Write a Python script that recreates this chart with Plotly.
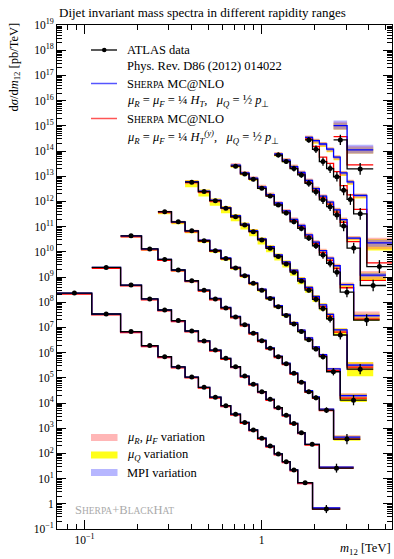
import plotly.graph_objects as go
import math

# ---------------- data ----------------
# bin edges [TeV] and dsigma/dm12 [pb/TeV] (scaled) for nine rapidity slices
EDGES_1 = [0.07, 0.11, 0.16, 0.21, 0.26, 0.31, 0.37, 0.44, 0.51, 0.59, 0.67, 0.76, 0.85, 0.95, 1.06, 1.18, 1.31, 1.45, 1.60, 1.94, 2.78]
DATA_1 = [2.3e8, 3.4e7, 6.8e6, 1.9e6, 6.9e5, 2.7e5, 1.07e5, 4.2e4, 1.7e4, 7.8e3, 3.6e3, 1.7e3, 8.5e2, 4.0e2, 1.95e2, 9.5e1, 4.7e1, 2.2e1, 6.9, 0.62]

EDGES_2 = [0.11, 0.16, 0.21, 0.26, 0.31, 0.37, 0.44, 0.51, 0.59, 0.67, 0.76, 0.85, 0.95, 1.06, 1.18, 1.31, 1.45, 1.60, 1.76, 2.12, 3.31]
DATA_2 = [2.4e9, 4.8e8, 1.35e8, 4.9e7, 1.86e7, 7.2e6, 2.9e6, 1.26e6, 5.9e5, 2.75e5, 1.17e5, 5.6e4, 2.8e4, 1.4e4, 6.5e3, 3.3e3, 1.55e3, 6.6e2, 2.3e2, 2.6e1]

EDGES_3 = [0.16, 0.21, 0.26, 0.31, 0.37, 0.44, 0.51, 0.59, 0.67, 0.76, 0.85, 0.95, 1.06, 1.18, 1.31, 1.45, 1.60, 1.76, 1.94, 2.12, 2.55, 3.61]
DATA_3 = [4.3e10, 1.3e10, 5.0e9, 1.9e9, 7.1e8, 3.0e8, 1.35e8, 5.9e7, 2.6e7, 1.26e7, 5.9e6, 2.95e6, 1.48e6, 6.9e5, 3.6e5, 1.5e5, 6.6e4, 2.8e4, 1.6e4, 5.2e3, 3.7e2]

EDGES_4 = [0.26, 0.31, 0.37, 0.44, 0.51, 0.59, 0.67, 0.76, 0.85, 0.95, 1.06, 1.18, 1.31, 1.45, 1.60, 1.76, 1.94, 2.12, 2.33, 2.78, 3.93]
DATA_4 = [3.9e11, 1.55e11, 6.8e10, 2.75e10, 1.1e10, 5.4e9, 2.3e9, 1.12e9, 5.6e8, 3.0e8, 1.4e8, 6.6e7, 3.0e7, 1.35e7, 6.8e6, 3.2e6, 1.4e6, 6.9e5, 1.74e5, 1.3e4]

EDGES_5 = [0.37, 0.44, 0.51, 0.59, 0.67, 0.76, 0.85, 0.95, 1.06, 1.18, 1.31, 1.45, 1.60, 1.76, 1.94, 2.12, 2.33, 2.55, 3.04, 4.27]
DATA_5 = [5.8e12, 2.45e12, 1.07e12, 5.4e11, 2.45e11, 1.15e11, 6.3e10, 2.95e10, 1.38e10, 6.5e9, 3.3e9, 1.55e9, 6.9e8, 3.0e8, 1.3e8, 5.6e7, 2.2e7, 5.0e6, 2.2e5]

EDGES_6 = [0.67, 0.76, 0.85, 0.95, 1.06, 1.18, 1.31, 1.45, 1.60, 1.76, 1.94, 2.12, 2.33, 2.55, 2.78, 3.31, 4.64]
DATA_6 = [2.5e13, 1.23e13, 7.6e12, 3.3e12, 1.62e12, 7.2e11, 3.5e11, 1.55e11, 8.5e10, 3.5e10, 1.74e10, 7.4e9, 3.5e9, 1.55e9, 2.5e8, 1.95e7]

EDGES_7 = [1.18, 1.31, 1.45, 1.60, 1.76, 1.94, 2.12, 2.33, 2.55, 2.78, 3.04, 3.61, 5.04]
DATA_7 = [6.9e13, 3.8e13, 2.0e13, 1.12e13, 5.2e12, 2.4e12, 1.15e12, 6.2e11, 2.9e11, 1.05e11, 1.4e10, 4.6e8]

EDGES_8 = [1.76, 1.94, 2.12, 2.33, 2.55, 2.78, 3.04, 3.31, 3.93, 5.45]
DATA_8 = [2.75e14, 1.17e14, 3.8e13, 2.0e13, 9.5e12, 2.8e12, 1.2e12, 3.2e11, 2.6e9]

EDGES_9 = [2.55, 3.04, 4.27]
DATA_9 = [2.75e14, 1.95e13]

# relative data uncertainty per bin
ERR_1 = [0.08, 0.08, 0.08, 0.08, 0.08, 0.08, 0.08, 0.08, 0.08, 0.08, 0.08, 0.08, 0.08, 0.08, 0.1, 0.1, 0.12, 0.12, 0.15, 0.45]
ERR_2 = [0.08, 0.08, 0.08, 0.08, 0.08, 0.08, 0.08, 0.08, 0.08, 0.08, 0.08, 0.08, 0.1, 0.1, 0.1, 0.12, 0.12, 0.15, 0.2, 0.5]
ERR_3 = [0.08, 0.08, 0.08, 0.08, 0.08, 0.08, 0.08, 0.08, 0.08, 0.08, 0.08, 0.1, 0.1, 0.1, 0.12, 0.12, 0.15, 0.2, 0.25, 0.3, 0.6]
ERR_4 = [0.1, 0.1, 0.1, 0.1, 0.1, 0.1, 0.1, 0.1, 0.1, 0.1, 0.12, 0.12, 0.15, 0.15, 0.2, 0.2, 0.25, 0.3, 0.4, 0.6]
ERR_5 = [0.15, 0.15, 0.15, 0.15, 0.15, 0.15, 0.15, 0.15, 0.15, 0.15, 0.2, 0.2, 0.2, 0.25, 0.3, 0.3, 0.4, 0.5, 0.6]
ERR_6 = [0.2, 0.2, 0.2, 0.2, 0.2, 0.2, 0.25, 0.25, 0.3, 0.3, 0.35, 0.4, 0.45, 0.5, 0.6, 0.7]
ERR_7 = [0.25, 0.25, 0.3, 0.3, 0.35, 0.4, 0.45, 0.5, 0.55, 0.6, 0.65, 0.7]
ERR_8 = [0.3, 0.4, 0.45, 0.5, 0.55, 0.6, 0.65, 0.7, 0.8]
ERR_9 = [0.6, 0.7]

# Sherpa MC@NLO, mu = HT/4 (blue) and HT^(y)/4 (red): ratio to data read per bin
HT_1 = [1.0, 1.0, 1.0, 1.0, 1.0, 1.0, 1.0, 1.0, 1.0, 1.0, 1.0, 1.0, 1.0, 1.0, 1.0, 1.0, 1.0, 1.0, 1.0, 1.1]
HTY_1 = [0.92, 0.92, 0.92, 0.92, 0.92, 0.92, 0.92, 0.92, 0.92, 0.92, 0.92, 0.92, 0.92, 0.92, 0.92, 0.92, 0.92, 0.92, 0.92, 1.0]
HT_2 = [1.0, 1.0, 1.0, 1.0, 1.0, 1.0, 1.0, 1.0, 1.0, 1.0, 1.0, 1.0, 1.0, 1.0, 1.0, 1.0, 1.0, 1.0, 1.0, 1.1]
HTY_2 = [0.92, 0.92, 0.92, 0.92, 0.92, 0.92, 0.92, 0.92, 0.92, 0.92, 0.92, 0.92, 0.92, 0.92, 0.92, 0.92, 0.92, 0.92, 0.92, 1.0]
HT_3 = [1.0, 1.0, 1.0, 1.0, 1.0, 1.0, 1.05, 1.05, 1.05, 1.05, 1.05, 1.05, 1.05, 1.05, 1.05, 1.05, 1.05, 1.1, 1.1, 1.1, 1.2]
HTY_3 = [0.92, 0.92, 0.92, 0.92, 0.92, 0.92, 0.92, 0.92, 0.92, 0.92, 0.92, 0.92, 0.92, 0.92, 0.92, 0.92, 0.95, 0.95, 0.95, 0.95, 1.0]
HT_4 = [1.0, 1.0, 1.0, 1.05, 1.05, 1.05, 1.05, 1.05, 1.05, 1.1, 1.1, 1.1, 1.1, 1.15, 1.15, 1.2, 1.2, 1.2, 1.3, 1.5]
HTY_4 = [0.92, 0.92, 0.92, 0.95, 0.95, 0.95, 0.95, 0.95, 0.95, 1.0, 1.0, 1.0, 1.0, 1.0, 1.05, 1.05, 1.05, 1.1, 1.1, 1.2]
HT_5 = [1.05, 1.05, 1.05, 1.05, 1.1, 1.1, 1.1, 1.1, 1.15, 1.15, 1.2, 1.2, 1.25, 1.3, 1.3, 1.4, 1.5, 1.6, 1.45]
HTY_5 = [0.95, 0.95, 0.95, 1.0, 1.0, 1.0, 1.0, 1.05, 1.05, 1.05, 1.1, 1.1, 1.1, 1.15, 1.15, 1.2, 1.25, 1.3, 1.2]
HT_6 = [1.1, 1.1, 1.1, 1.15, 1.15, 1.2, 1.2, 1.25, 1.3, 1.35, 1.4, 1.5, 1.6, 1.8, 2.0, 1.5]
HTY_6 = [1.0, 1.0, 1.0, 1.0, 1.05, 1.05, 1.1, 1.1, 1.15, 1.2, 1.2, 1.25, 1.3, 1.4, 1.5, 1.1]
HT_7 = [1.1, 1.15, 1.2, 1.25, 1.3, 1.35, 1.4, 1.5, 1.6, 1.8, 2.5, 2.6]
HTY_7 = [1.0, 1.05, 1.05, 1.1, 1.1, 1.15, 1.2, 1.25, 1.3, 1.4, 1.8, 1.6]
HT_8 = [1.26, 2.2, 5.0, 5.9, 6.0, 4.8, 5.0, 5.4, 8.7]
HTY_8 = [1.1, 1.3, 1.5, 1.6, 1.6, 1.5, 1.5, 1.5, 1.4]
HT_9 = [3.7, 5.7]
HTY_9 = [1.35, 1.44]

# variation bands per slice, in decades above / below the Sherpa prediction
SCALE_UP = [0.02, 0.02, 0.03, 0.04, 0.05, 0.08, 0.08, 0.08, 0.15]
SCALE_DN = [0.03, 0.03, 0.04, 0.05, 0.10, 0.08, 0.08, 0.10, 0.15]
MUQ_UP = [0.01, 0.01, 0.02, 0.03, 0.06, 0.04, 0.05, 0.06, 0.10]
MUQ_DN = [0.02, 0.02, 0.06, 0.10, 0.22, 0.10, 0.10, 0.12, 0.15]
MPI_UP = [0.01, 0.01, 0.01, 0.02, 0.02, 0.03, 0.04, 0.05, 0.20]
MPI_DN = [0.01, 0.01, 0.01, 0.02, 0.03, 0.03, 0.04, 0.06, 0.15]
# the wide last bin of each slice has a broader band (multiplier)
LAST_BIN_WIDEN = [2.0, 2.0, 2.5, 2.5, 2.0, 2.0, 2.0, 2.5, 1.0]

SERIES = [
    (EDGES_1, DATA_1, ERR_1, HT_1, HTY_1),
    (EDGES_2, DATA_2, ERR_2, HT_2, HTY_2),
    (EDGES_3, DATA_3, ERR_3, HT_3, HTY_3),
    (EDGES_4, DATA_4, ERR_4, HT_4, HTY_4),
    (EDGES_5, DATA_5, ERR_5, HT_5, HTY_5),
    (EDGES_6, DATA_6, ERR_6, HT_6, HTY_6),
    (EDGES_7, DATA_7, ERR_7, HT_7, HTY_7),
    (EDGES_8, DATA_8, ERR_8, HT_8, HTY_8),
    (EDGES_9, DATA_9, ERR_9, HT_9, HTY_9),
]

Y_TICK_EXP = list(range(-1, 20))
X_TICKS = [0.1, 1]
X_TICK_TEXT = ["10<sup>\u22121</sup>", "1"]

# ---------------- drawing ----------------
FONT = "Liberation Serif"
W, H = 394, 559
L, R, T, B = 57, 2, 25, 30
PW, PH = W - L - R, H - T - B

fig = go.Figure()


def step_xy(edges, vals):
    xs, ys = [], []
    for i, v in enumerate(vals):
        xs += [edges[i], edges[i + 1]]
        ys += [v, v]
    return xs, ys


def band(edges, center, up, dn, widen, color):
    n = len(center)
    ups = [up * (widen if i == n - 1 else 1) for i in range(n)]
    dns = [dn * (widen if i == n - 1 else 1) for i in range(n)]
    xs, hi = step_xy(edges, [c * 10 ** u for c, u in zip(center, ups)])
    _, lo = step_xy(edges, [c / 10 ** d for c, d in zip(center, dns)])
    fig.add_trace(go.Scatter(x=xs + xs[::-1], y=hi + lo[::-1], fill="toself",
                             fillcolor=color, line=dict(width=0), mode="lines",
                             hoverinfo="skip", showlegend=False))


COL_SCALE = "rgba(255,110,110,0.5)"
COL_MUQ = "rgba(255,255,0,0.9)"
COL_MPI = "rgba(110,110,255,0.5)"

for k, (edges, data, err, ht, hty) in enumerate(SERIES):
    n = len(data)
    blue = [d * r for d, r in zip(data, ht)]
    red = [d * r for d, r in zip(data, hty)]
    band(edges, blue, MUQ_UP[k], MUQ_DN[k], LAST_BIN_WIDEN[k], COL_MUQ)
    band(edges, blue, SCALE_UP[k], SCALE_DN[k], LAST_BIN_WIDEN[k], COL_SCALE)
    band(edges, blue, MPI_UP[k], MPI_DN[k], LAST_BIN_WIDEN[k], COL_MPI)
    xs, ys = step_xy(edges, red)
    fig.add_trace(go.Scatter(x=xs, y=ys, mode="lines", line=dict(color="#ff0000", width=1.3),
                             showlegend=False, hoverinfo="skip"))
    xs, ys = step_xy(edges, blue)
    fig.add_trace(go.Scatter(x=xs, y=ys, mode="lines", line=dict(color="#0000ff", width=1.3),
                             showlegend=False, hoverinfo="skip"))
    xs, ys = step_xy(edges, data)
    fig.add_trace(go.Scatter(x=xs, y=ys, mode="lines", line=dict(color="black", width=1.3),
                             showlegend=False, hoverinfo="skip"))
    cx = [math.sqrt(edges[i] * edges[i + 1]) for i in range(n)]
    fig.add_trace(go.Scatter(
        x=cx, y=data, mode="markers",
        marker=dict(color="black", size=5),
        error_y=dict(type="data", symmetric=False,
                     array=[d * e for d, e in zip(data, err)],
                     arrayminus=[d * e / (1 + e) for d, e in zip(data, err)],
                     color="black", thickness=1.3, width=0),
        showlegend=False, hoverinfo="skip"))

# axes
y_minor = [m * 10 ** e for e in range(-1, 19) for m in range(2, 10)]
x_minor = [0.07, 0.08, 0.09, 0.2, 0.3, 0.4, 0.5, 0.6, 0.7, 0.8, 0.9, 2, 3, 4, 5]


def ylab(e):
    if e == 0:
        return "1"
    return "10<sup>" + str(e).replace("-", "\u2212") + "</sup>"


fig.update_layout(
    width=W, height=H, margin=dict(l=L, r=R, t=T, b=B),
    paper_bgcolor="white", plot_bgcolor="white",
    font=dict(family=FONT, size=11, color="black"),
    showlegend=False,
    xaxis=dict(type="log", range=[math.log10(0.07), math.log10(5.45)],
               tickvals=X_TICKS, ticktext=X_TICK_TEXT,
               ticks="inside", ticklen=9, tickwidth=1, tickcolor="black",
               showline=True, linecolor="black", linewidth=1, mirror="allticks",
               showgrid=False, zeroline=False,
               minor=dict(tickvals=x_minor, ticks="inside", ticklen=5, tickcolor="black", showgrid=False),
               tickfont=dict(family=FONT, size=11.5)),
    yaxis=dict(type="log", range=[-1, 19],
               tickvals=[10 ** e for e in Y_TICK_EXP], ticktext=[ylab(e) for e in Y_TICK_EXP],
               ticks="inside", ticklen=9, tickwidth=1, tickcolor="black",
               showline=True, linecolor="black", linewidth=1, mirror="allticks",
               showgrid=False, zeroline=False,
               minor=dict(tickvals=y_minor, ticks="inside", ticklen=5, tickcolor="black", showgrid=False),
               tickfont=dict(family=FONT, size=11.5)),
)


def px(x):
    return (x - L) / PW


def py(y):
    return (H - B - y) / PH


ann = []
shapes = []


def text(x, y, s, size=12.5, color="black", xanchor="left", yanchor="middle", angle=0):
    ann.append(dict(x=px(x), y=py(y), xref="paper", yref="paper", text=s, showarrow=False,
                    xanchor=xanchor, yanchor=yanchor, textangle=angle,
                    font=dict(family=FONT, size=size, color=color)))


def sc(word, small=9.5):
    return word[0] + "<span style='font-size:%spx'>%s</span>" % (small, word[1:].upper())


# title and axis labels
text(57, 12, "Dijet invariant mass spectra in different rapidity ranges", size=13)
text(14, 21, "d<i>\u03c3</i>/d<i>m</i><sub>12</sub> [pb/TeV]", size=12.5, angle=-90,
     xanchor="center", yanchor="top")
text(393, 549, "<i>m</i><sub>12</sub> [TeV]", size=12.5, xanchor="right")

# legend (top)
shapes.append(dict(type="line", xref="paper", yref="paper", x0=px(91), x1=px(117), y0=py(50), y1=py(50),
                   line=dict(color="black", width=1.3)))
shapes.append(dict(type="circle", xref="paper", yref="paper", x0=px(102), x1=px(106.5), y0=py(52.2), y1=py(47.8),
                   fillcolor="black", line=dict(color="black", width=0)))
text(125, 50, "ATLAS data")
text(125, 66, "Phys. Rev. D86 (2012) 014022")
shapes.append(dict(type="line", xref="paper", yref="paper", x0=px(91), x1=px(117), y0=py(83.5), y1=py(83.5),
                   line=dict(color="#5555ff", width=1.5)))
text(125, 83.5, sc("Sherpa") + " MC@NLO")
text(125, 101, "<i>\u03bc<sub>R</sub></i> = <i>\u03bc<sub>F</sub></i> = \u00bc <i>H<sub>T</sub></i>,   "
     "<i>\u03bc<sub>Q</sub></i> = \u00bd <i>p</i><sub>\u22a5</sub>")
shapes.append(dict(type="line", xref="paper", yref="paper", x0=px(91), x1=px(117), y0=py(118.5), y1=py(118.5),
                   line=dict(color="#ff5555", width=1.5)))
text(125, 118.5, sc("Sherpa") + " MC@NLO")
text(125, 137, "<i>\u03bc<sub>R</sub></i> = <i>\u03bc<sub>F</sub></i> = \u00bc <i>H<sub>T</sub><sup>(y)</sup></i>,   "
     "<i>\u03bc<sub>Q</sub></i> = \u00bd <i>p</i><sub>\u22a5</sub>")

# legend (bands)
for yy, col, lab in [(437.5, COL_SCALE, "<i>\u03bc<sub>R</sub></i>, <i>\u03bc<sub>F</sub></i> variation"),
                     (455, COL_MUQ, "<i>\u03bc<sub>Q</sub></i> variation"),
                     (472.5, COL_MPI, "MPI variation")]:
    shapes.append(dict(type="rect", xref="paper", yref="paper", x0=px(91), x1=px(117.5),
                       y0=py(yy + 3.5), y1=py(yy - 3.5), fillcolor=col, line=dict(width=0)))
    text(125, yy, lab)

text(73, 510, sc("Sherpa") + "+" + "B<span style='font-size:9.5px'>LACK</span>H<span style='font-size:9.5px'>AT</span>",
     size=12.5, color="#aaaaaa")

fig.update_layout(annotations=ann, shapes=shapes)
fig.write_html("out.html", config={"displayModeBar": False},
               post_script="document.body.style.margin='0';document.body.style.padding='0';")
